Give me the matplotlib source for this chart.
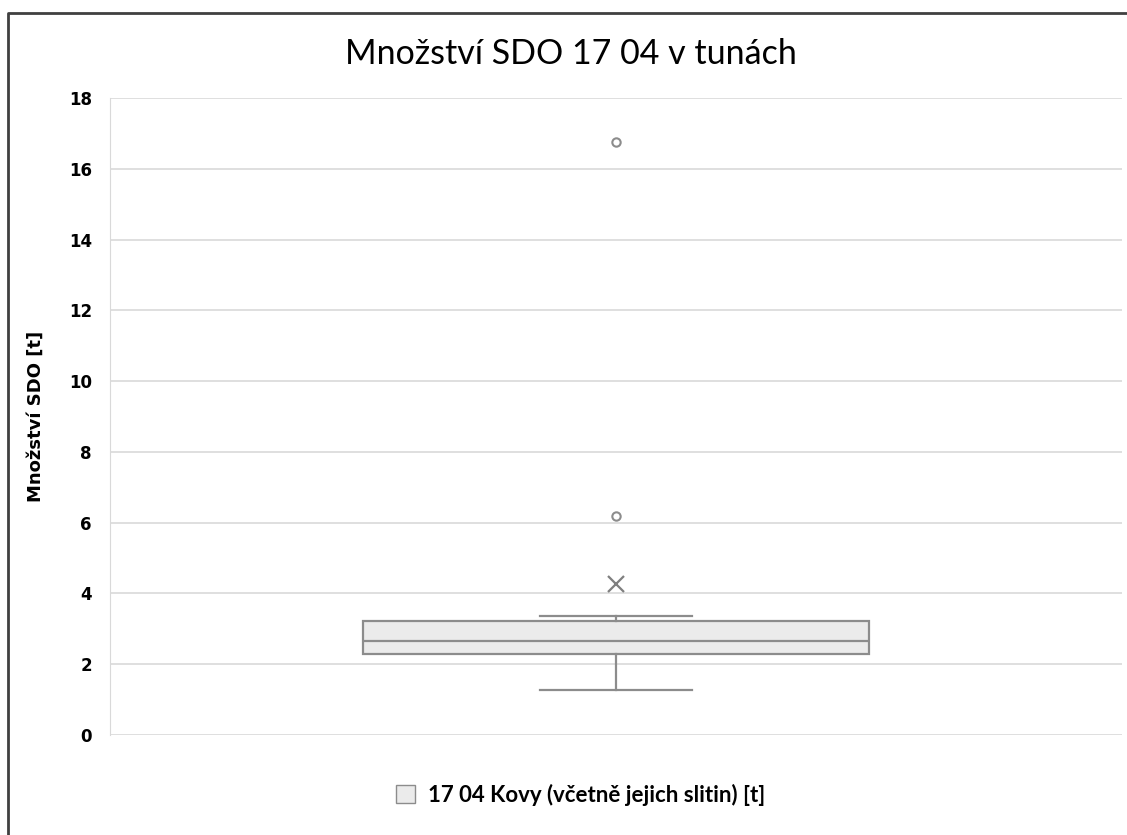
import matplotlib
matplotlib.use('Agg')
import matplotlib.pyplot as plt
from matplotlib.lines import Line2D
from matplotlib.patches import Patch

# Souhrnné statistiky boxplotu
serie = '17 04 Kovy (včetně jejich slitin) [t]'
minimum = 1.27
q1 = 2.30
median = 2.67
q3 = 3.22
maximum = 3.36
prumer = 4.27
odlehle = [6.2, 16.75]

y_ticks = [0, 2, 4, 6, 8, 10, 12, 14, 16, 18]

plt.rcParams['font.family'] = ['Lato', 'DejaVu Sans']

fig = plt.figure(figsize=(11.27, 8.35), dpi=100)
ax = fig.add_axes([110 / 1127, 1 - 735 / 835, 1012 / 1127, 637 / 835])

stats = [{
    'whislo': minimum, 'q1': q1, 'med': median, 'q3': q3, 'whishi': maximum,
    'mean': prumer, 'fliers': odlehle, 'label': serie,
}]

seda = '#8c8c8c'
ax.bxp(stats, positions=[1], widths=0.5, capwidths=0.15, showmeans=True,
       patch_artist=True,
       boxprops=dict(facecolor='#ebebeb', edgecolor=seda, linewidth=1.6),
       medianprops=dict(color=seda, linewidth=1.6),
       whiskerprops=dict(color=seda, linewidth=1.6),
       capprops=dict(color=seda, linewidth=1.6),
       meanprops=dict(marker='x', markeredgecolor='#7f7f7f', markersize=12,
                      markeredgewidth=1.6),
       flierprops=dict(marker='o', markerfacecolor='none', markeredgecolor=seda,
                       markersize=6, markeredgewidth=1.5))

ax.set_xlim(0.5, 1.5)
ax.set_ylim(0, 18)
ax.set_yticks(y_ticks)
ax.set_xticks([])
ax.grid(axis='y', color='#d9d9d9', linewidth=1.2)
ax.set_axisbelow(True)
for s in ['top', 'right', 'bottom']:
    ax.spines[s].set_visible(False)
ax.spines['left'].set_color('#d9d9d9')
ax.tick_params(axis='y', length=0, pad=13)
for t in ax.get_yticklabels():
    t.set_fontfamily('DejaVu Sans')
    t.set_fontweight('bold')
    t.set_fontsize(12)

ax.set_ylabel('Množství SDO [t]', fontsize=13, fontfamily='DejaVu Sans',
              fontweight='bold')
ax.yaxis.set_label_coords((45 - 110) / 1012, 0.5)

fig.text(0.507, 1 - 54 / 835, 'Množství SDO 17 04 v tunách', ha='center',
         va='center', fontsize=24.5)

fig.legend(handles=[Patch(facecolor='#ebebeb', edgecolor=seda, label=serie)],
           loc='center', bbox_to_anchor=(0.5155, 1 - 795 / 835), frameon=False,
           prop=dict(size=16, weight='bold'), handlelength=0.85, handleheight=0.85,
           handletextpad=0.6)

# rámeček grafu (levá a horní hrana)
fig.add_artist(Line2D([8 / 1127, 8 / 1127, 1], [0, 1 - 12.5 / 835, 1 - 12.5 / 835],
                      transform=fig.transFigure, color='#404040', linewidth=2))

fig.savefig('out.png', dpi=100)
